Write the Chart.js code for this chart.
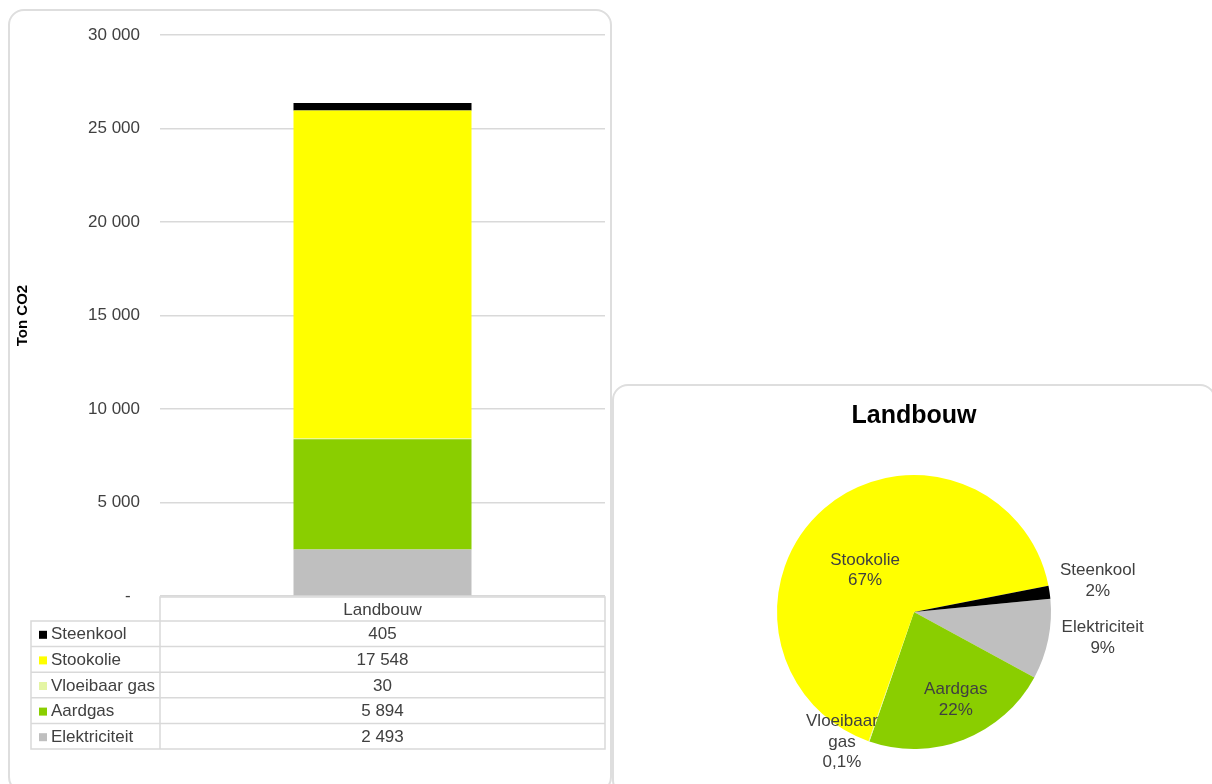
<!DOCTYPE html>
<html>
<head>
<meta charset="utf-8">
<script src="https://cdn.jsdelivr.net/npm/chart.js@4.4.0/dist/chart.umd.min.js"></script>
<style>
  html, body { margin: 0; padding: 0; background: #fff; overflow: hidden; }
  body { width: 1212px; height: 784px; position: relative; }
  .panel { position: absolute; border: 2px solid #dedede; border-radius: 16px; background: #fff; box-sizing: border-box; }
  #barPanel { left: 8px; top: 9px; width: 604px; height: 784px; }
  #piePanel { left: 612px; top: 384px; width: 604px; height: 412px; }
  canvas { position: absolute; }
  #barChart { left: 0; top: 0; }
  #pieChart { left: 612px; top: 385px; }
</style>
</head>
<body>
<div class="panel" id="barPanel"></div>
<div class="panel" id="piePanel"></div>
<canvas id="barChart" width="612" height="784"></canvas>
<canvas id="pieChart" width="600" height="400"></canvas>

<script>
// CO2-uitstoot landbouw per energiedrager (ton)
const categories    = ['Landbouw'];
const energySources = ['Steenkool', 'Stookolie', 'Vloeibaar gas', 'Aardgas', 'Elektriciteit'];
const emissions     = [405, 17548, 30, 5894, 2493];
const sourceColors  = ['#000000', '#ffff00', '#e4f5a4', '#8ace00', '#bfbfbf'];
const yTicks        = [0, 5000, 10000, 15000, 20000, 25000, 30000];

// pie runs clockwise starting with Elektriciteit
const pieOrder = [4, 3, 2, 1, 0];

Chart.defaults.font.family = '"Liberation Sans", Arial, sans-serif';
Chart.defaults.color = '#404040';

const fmt = v => String(v).replace(/\B(?=(\d{3})+(?!\d))/g, ' ');

// data table under the stacked bar
const dataTable = {
  id: 'dataTable',
  afterDraw(chart) {
    const { ctx, chartArea: area } = chart;
    const left = 31, headH = 24, rowH = 25.6;
    const top = area.bottom + 1;
    const midX = (area.left + area.right) / 2;
    ctx.save();
    ctx.strokeStyle = '#d9d9d9';
    ctx.lineWidth = 1.5;
    ctx.beginPath();
    ctx.rect(area.left, top, area.right - area.left, headH);
    energySources.forEach((_, i) => {
      const y = top + headH + i * rowH;
      ctx.rect(left, y, area.left - left, rowH);
      ctx.rect(area.left, y, area.right - area.left, rowH);
    });
    ctx.stroke();

    ctx.font = '17px "Liberation Sans", Arial, sans-serif';
    ctx.textBaseline = 'middle';
    ctx.fillStyle = '#404040';
    ctx.textAlign = 'center';
    ctx.fillText(categories[0], midX, top + headH / 2 + 1);
    energySources.forEach((name, i) => {
      const cy = top + headH + rowH * i + rowH / 2 + 1;
      ctx.fillStyle = sourceColors[i];
      ctx.fillRect(left + 8, cy - 4, 8, 8);
      ctx.fillStyle = '#404040';
      ctx.textAlign = 'left';
      ctx.fillText(name, left + 20, cy);
      ctx.textAlign = 'center';
      ctx.fillText(fmt(emissions[i]), midX, cy);
    });
    ctx.restore();
  }
};

new Chart(document.getElementById('barChart'), {
  type: 'bar',
  data: {
    labels: categories,
    // first dataset sits at the bottom of the stack
    datasets: energySources.map((name, i) => ({
      label: name,
      data: [emissions[i]],
      backgroundColor: sourceColors[i],
      borderWidth: 0,
      categoryPercentage: 1,
      barPercentage: 0.4
    })).reverse()
  },
  options: {
    responsive: false,
    animation: false,
    layout: { padding: { left: 10, right: 7, top: 35, bottom: 188 } },
    plugins: { legend: { display: false }, tooltip: { enabled: false } },
    scales: {
      x: { stacked: true, display: false },
      y: {
        stacked: true,
        min: yTicks[0],
        max: yTicks[yTicks.length - 1],
        afterBuildTicks: s => { s.ticks = yTicks.map(v => ({ value: v })); },
        afterFit: s => { s.width = 150; },
        border: { display: false },
        grid: { color: '#d9d9d9', lineWidth: 1.5, drawTicks: false },
        ticks: {
          padding: 20,
          font: { size: 17 },
          color: '#404040',
          callback: v => v === 0 ? '-  ' : fmt(v)
        },
        title: {
          display: true,
          text: 'Ton CO2',
          color: '#000',
          font: { size: 15, weight: 'bold' },
          padding: { top: 4, bottom: 4 }
        }
      }
    }
  },
  plugins: [dataTable]
});

// label placement around each slice: [radius factor, angle nudge in degrees]
const sliceLabelPlace = {
  'Steenkool':     [1.36, -1.3],
  'Stookolie':     [0.47, -8.6],
  'Vloeibaar gas': [1.085, 9.8],
  'Aardgas':       [0.71, -4.2],
  'Elektriciteit': [1.39, -3.7]
};

const pieLabels = pieOrder.map(i => energySources[i]);
const pieValues = pieOrder.map(i => emissions[i]);
const pieColors = pieOrder.map(i => sourceColors[i]);

const pctText = (v, total) => {
  const p = v / total * 100;
  return p < 1 ? p.toFixed(1).replace('.', ',') + '%' : Math.round(p) + '%';
};

const sliceLabels = {
  id: 'sliceLabels',
  afterDatasetsDraw(chart) {
    const { ctx } = chart;
    const meta = chart.getDatasetMeta(0);
    const values = chart.data.datasets[0].data;
    const total = values.reduce((a, b) => a + b, 0);
    ctx.save();
    ctx.font = '17px "Liberation Sans", Arial, sans-serif';
    ctx.fillStyle = '#404040';
    ctx.textAlign = 'center';
    ctx.textBaseline = 'middle';
    meta.data.forEach((arc, i) => {
      const name = chart.data.labels[i];
      const [f, nudge] = sliceLabelPlace[name];
      const { x, y, startAngle, endAngle, outerRadius } = arc.getProps(['x', 'y', 'startAngle', 'endAngle', 'outerRadius']);
      const a = (startAngle + endAngle) / 2 + nudge * Math.PI / 180;
      const cx = x + Math.cos(a) * outerRadius * f;
      const cy = y + Math.sin(a) * outerRadius * f;
      const lines = ctx.measureText(name).width > 90 ? name.split(' ') : [name];
      lines.push(pctText(values[i], total));
      const lh = 20.5;
      lines.forEach((t, k) => {
        ctx.fillText(t, cx, cy + (k - (lines.length - 1) / 2) * lh);
      });
    });
    ctx.restore();
  }
};

new Chart(document.getElementById('pieChart'), {
  type: 'pie',
  data: {
    labels: pieLabels,
    datasets: [{
      data: pieValues,
      backgroundColor: pieColors,
      borderWidth: 0,
      radius: 137
    }]
  },
  options: {
    responsive: false,
    animation: false,
    rotation: 84.5,
    layout: { padding: { left: 4, right: 0, top: 0, bottom: 0 } },
    plugins: {
      legend: { display: false },
      tooltip: { enabled: false },
      title: {
        display: true,
        text: 'Landbouw',
        color: '#000',
        font: { size: 25, weight: 'bold' },
        padding: { top: 16, bottom: 8 }
      }
    }
  },
  plugins: [sliceLabels]
});
</script>
</body>
</html>
